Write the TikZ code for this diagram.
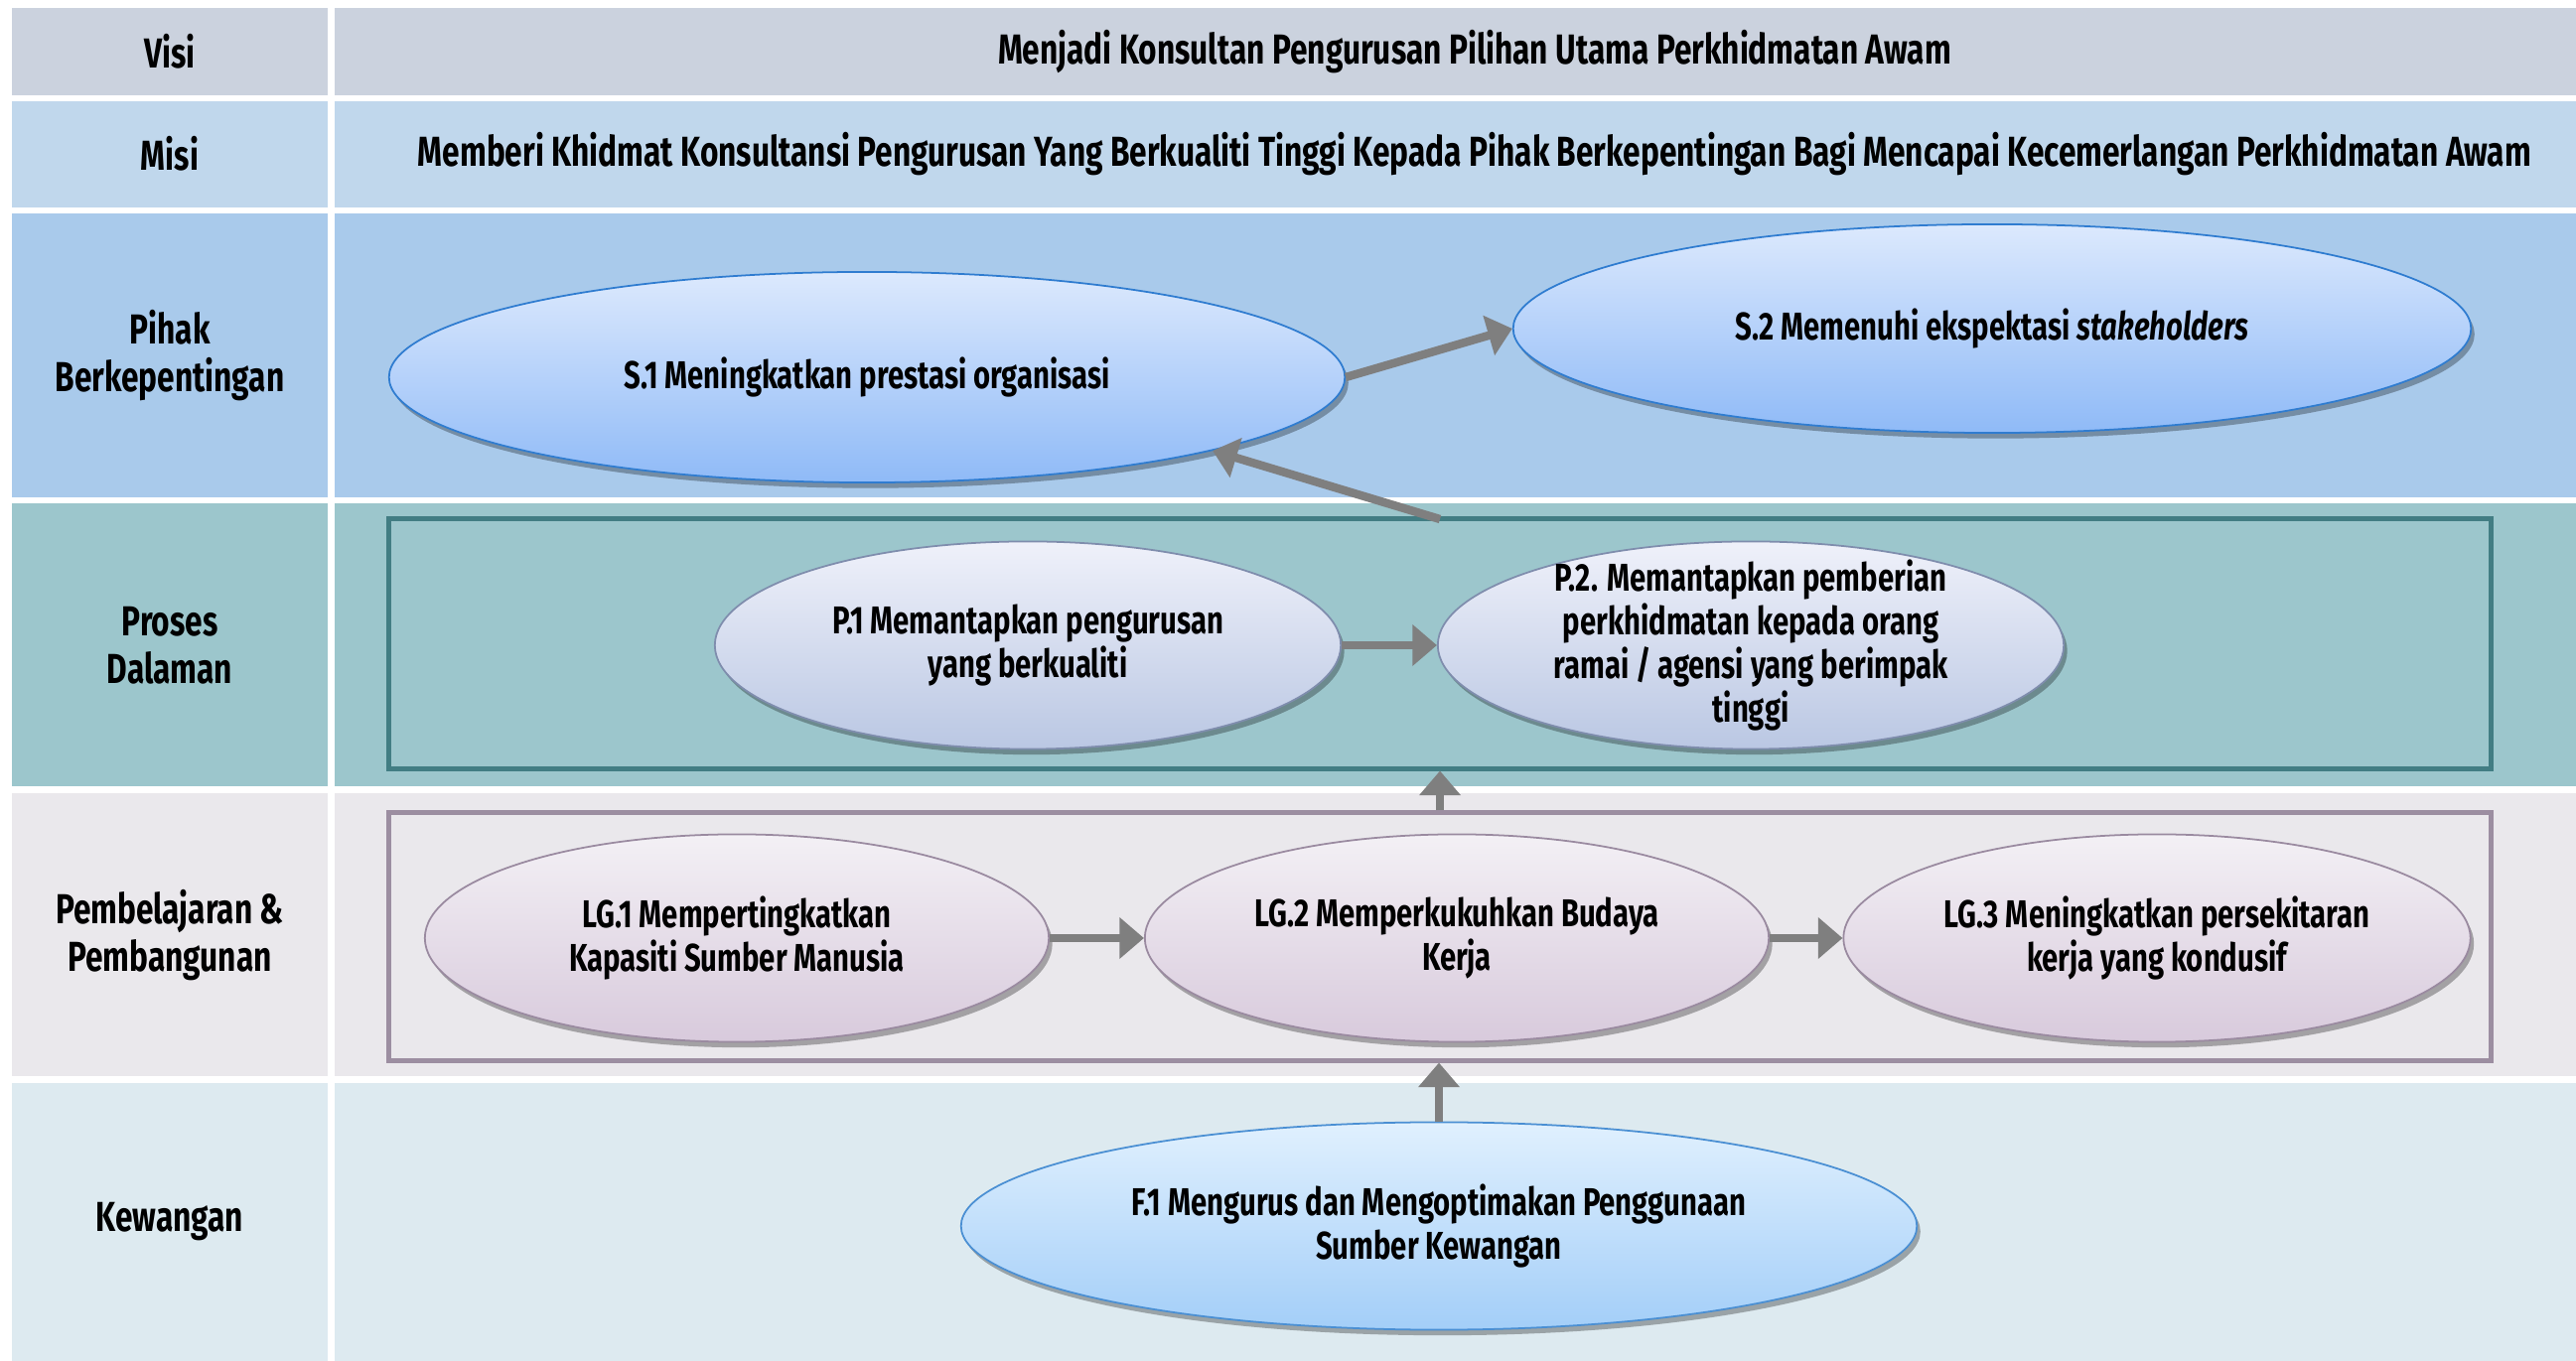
\documentclass[tikz,border=0pt]{standalone}
\usepackage{fontspec}
\setmainfont{Fira Sans}[FakeStretch=0.75]
\usetikzlibrary{shapes.geometric,arrows.meta,shadows}
\definecolor{cvisi}{HTML}{CBD2DE}
\definecolor{cmisi}{HTML}{C0D7EC}
\definecolor{cpihak}{HTML}{A9CAEB}
\definecolor{cproses}{HTML}{9CC6CC}
\definecolor{cpemb}{HTML}{EAE8EC}
\definecolor{ckew}{HTML}{DDEAF0}
\definecolor{sTop}{HTML}{DCE9FD}
\definecolor{sBot}{HTML}{8FBAF7}
\definecolor{sLine}{HTML}{2F7CD0}
\definecolor{fTop}{HTML}{E0F0FE}
\definecolor{fBot}{HTML}{A3CEF8}
\definecolor{fLine}{HTML}{4A8FD3}
\definecolor{pTop}{HTML}{EFF1FA}
\definecolor{pBot}{HTML}{BAC7E3}
\definecolor{pLine}{HTML}{7F8DAD}
\definecolor{gTop}{HTML}{F3F0F5}
\definecolor{gBot}{HTML}{D8CADC}
\definecolor{gLine}{HTML}{9A8AA0}
\definecolor{pFrame}{HTML}{427D83}
\definecolor{gFrame}{HTML}{9C8EA1}
\definecolor{arrowgray}{HTML}{7F7F7F}
\begin{document}
\begin{tikzpicture}[x=0.01cm,y=-0.01cm,
  rowlabel/.style={font=\bfseries\fontsize{12pt}{13.7pt}\selectfont, align=center, inner sep=0pt},
  etext/.style={font=\bfseries\fontsize{11.1pt}{12.6pt}\selectfont, align=center, inner sep=0pt},
  oval/.style={ellipse, inner sep=0pt, line width=0.5pt,
    drop shadow={shadow xshift=1pt, shadow yshift=-1.6pt, opacity=0.3, fill=black}},
  soval/.style={oval, draw=sLine, top color=sTop, bottom color=sBot},
  foval/.style={oval, draw=fLine, top color=fTop, bottom color=fBot},
  poval/.style={oval, draw=pLine, top color=pTop, bottom color=pBot},
  goval/.style={oval, draw=gLine, top color=gTop, bottom color=gBot},
  frame/.style={rectangle, inner sep=0pt, line width=1.4pt, minimum width=21.16cm},
  conn/.style={draw=arrowgray, line width=2.4pt, -{Triangle[length=7pt,width=11.5pt]}}
]
\useasboundingbox (0,0) rectangle (2594,1371);
\fill[white] (0,0) rectangle (2594,1371);
% row backgrounds
\fill[cvisi]   (12,8) rectangle (330,96);    \fill[cvisi]   (337,8) rectangle (2594,96);
\fill[cmisi]   (12,102) rectangle (330,209); \fill[cmisi]   (337,102) rectangle (2594,209);
\fill[cpihak]  (12,215) rectangle (330,501); \fill[cpihak]  (337,215) rectangle (2594,501);
\fill[cproses] (12,507) rectangle (330,792); \fill[cproses] (337,507) rectangle (2594,792);
\fill[cpemb]   (12,799) rectangle (330,1084);\fill[cpemb]   (337,799) rectangle (2594,1084);
\fill[ckew]    (12,1091) rectangle (330,1371);\fill[ckew]   (337,1091) rectangle (2594,1371);
% row labels
\node[rowlabel] (lvisi) at (171,52) {Visi};
\node[rowlabel] (lmisi) at (171,155) {Misi};
\node[rowlabel] (lpihak) at (171,358) {Pihak\\Berkepentingan};
\node[rowlabel] (lproses) at (171,650) {Proses\\Dalaman};
\node[rowlabel] (lpemb) at (171,942) {Pembelajaran \&\\Pembangunan};
\node[rowlabel] (lkew) at (171,1231) {Kewangan};
\node[rowlabel] (tvisi) at (1485,52) {Menjadi Konsultan Pengurusan Pilihan Utama Perkhidmatan Awam};
\node[rowlabel] (tmisi) at (1485,155) {Memberi Khidmat Konsultansi Pengurusan Yang Berkualiti Tinggi Kepada Pihak Berkepentingan Bagi Mencapai Kecemerlangan Perkhidmatan Awam};
% frames
\node[frame, draw=pFrame, minimum height=2.51cm] (pframe) at (1450,648.5) {};
\node[frame, draw=gFrame, minimum height=2.49cm] (gframe) at (1450,943.5) {};
% ellipses
\node[soval, minimum width=9.62cm, minimum height=2.12cm] (s1) at (873,380) {};
\node[soval, minimum width=9.64cm, minimum height=2.10cm] (s2) at (2006,331) {};
\node[poval, minimum width=6.30cm, minimum height=2.09cm] (p1) at (1035,650) {};
\node[poval, minimum width=6.30cm, minimum height=2.09cm] (p2) at (1763,650) {};
\node[goval, minimum width=6.28cm, minimum height=2.09cm] (g1) at (742,945) {};
\node[goval, minimum width=6.28cm, minimum height=2.09cm] (g2) at (1467,945) {};
\node[goval, minimum width=6.31cm, minimum height=2.09cm] (g3) at (2172,945) {};
\node[foval, minimum width=9.62cm, minimum height=2.09cm] (f1) at (1449,1235) {};
% ellipse texts
\node[etext] (s1t) at (s1) {S.1 Meningkatkan prestasi organisasi};
\node[etext] (s2t) at (s2) {S.2 Memenuhi ekspektasi \textit{stakeholders}};
\node[etext] (p1t) at (p1) {P.1 Memantapkan pengurusan\\yang berkualiti};
\node[etext] (p2t) at (p2) {P.2. Memantapkan pemberian\\perkhidmatan kepada orang\\ramai / agensi yang berimpak\\tinggi};
\node[etext] (g1t) at (g1) {LG.1 Mempertingkatkan\\Kapasiti Sumber Manusia};
\node[etext] (g2t) at (g2) {LG.2 Memperkukuhkan Budaya\\Kerja};
\node[etext] (g3t) at (g3) {LG.3 Meningkatkan persekitaran\\kerja yang kondusif};
\node[etext] (f1t) at (f1) {F.1 Mengurus dan Mengoptimakan Penggunaan\\Sumber Kewangan};
% connectors
\coordinate (pstart) at (1450,523);
\draw[conn] (s1.east) -- (s2.west);
\draw[conn] (pstart) -- (s1.-12.4);
\draw[conn] (p1.east) -- (p2.west);
\draw[conn] (g1.east) -- (g2.west);
\draw[conn] (g2.east) -- (g3.west);
\draw[conn] (gframe.north) -- (pframe.south);
\draw[conn] (f1.north) -- (f1.north |- gframe.south);
\end{tikzpicture}
\end{document}
